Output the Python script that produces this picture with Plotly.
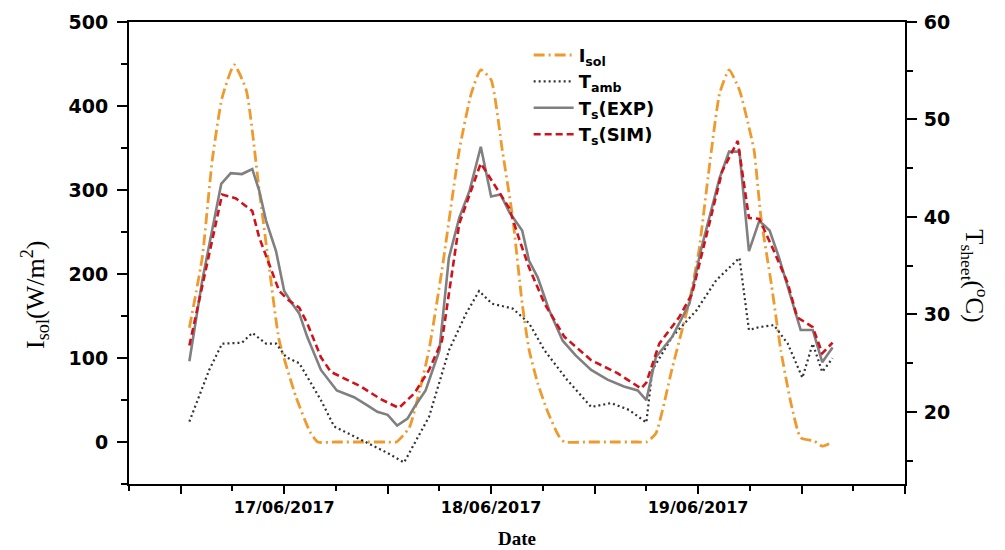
import pandas as pd
import plotly.graph_objects as go

BASE = "2017-06-17 00:00"

# hours relative to 17/06/2017 00:00
isol_h = [-11.0, -9.5, -8.35, -7.2, -5.8, -4.4, -2.9, -1.74, -0.58, 1.39, 3.0, 3.9,
          6.0, 9.0, 12.0, 13.0, 14.5, 15.7, 16.8, 18.3, 20.3, 21.7, 22.8, 24.0, 25.3,
          26.5, 27.6, 28.4, 29.4, 30.6, 31.8, 32.5, 35.0, 38.0, 41.0, 42.0, 43.1, 45.0,
          47.0, 48.1, 49.3, 50.5, 51.6, 52.8, 53.9, 54.5, 55.3, 56.5, 57.6, 58.8, 59.9,
          61.5, 62.4, 63.2]
isol_v = [136, 220, 335, 410, 449, 419, 300, 208, 121, 53, 12, 0,
          0, 0, 0, 0, 17, 61, 110, 205, 347, 415, 443, 431, 347,
          267, 165, 110, 70, 35, 8, 0, 0, 0, 0, 0, 10, 88,
          168, 228, 327, 415, 443, 419, 375, 347, 267, 188, 109, 45, 5,
          1, -5, -2]

tamb_h = [-11.0, -8.7, -7.2, -4.9, -3.7, -2.1, -0.93, 0.23, 1.74, 2.67, 4.26, 5.8,
          8.9, 11.95, 13.9, 16.8, 19.1, 21.1, 22.6, 24.1, 26.5, 28.4, 30.2, 32.8,
          35.6, 37.9, 40.0, 42.0, 42.7, 45.0, 47.8, 50.1, 52.8, 53.9, 55.1, 56.8,
          58.4, 60.1, 61.3, 62.4, 63.6]
tamb_v = [19.0, 24.3, 27.0, 27.1, 28.1, 27.0, 27.0, 25.6, 25.0, 23.6, 21.2, 18.5,
          17.1, 15.8, 14.8, 19.5, 26.3, 30.1, 32.4, 31.1, 30.6, 29.1, 26.3, 23.3,
          20.5, 20.9, 20.2, 18.9, 24.3, 27.7, 30.4, 33.5, 35.8, 28.4, 28.7, 28.9,
          27.0, 23.5, 27.0, 24.1, 25.5]

texp_h = [-11.0, -9.5, -7.3, -6.2, -4.9, -3.7, -2.9, -2.1, -0.95, 0.0, 0.93, 1.74,
          2.67, 4.26, 6.1, 8.1, 9.6, 10.8, 12.0, 13.1, 14.3, 15.1, 16.4, 18.0, 19.1,
          20.3, 21.5, 22.8, 24.0, 25.1, 26.1, 27.6, 28.4, 29.4, 30.7, 32.3, 33.8,
          35.6, 37.5, 39.4, 41.0, 42.0, 43.1, 45.0, 47.0, 48.3, 50.5, 51.6, 52.8,
          53.9, 55.1, 56.3, 57.4, 59.9, 61.3, 62.4, 63.6]
texp_v = [25.2, 33.5, 43.4, 44.5, 44.4, 44.9, 42.7, 39.6, 36.5, 32.4, 31.1, 30.1,
          27.7, 24.3, 22.2, 21.5, 20.7, 20.0, 19.7, 18.6, 19.3, 20.5, 22.2, 26.3, 35.8,
          39.9, 42.7, 47.2, 42.1, 42.3, 40.5, 38.6, 35.5, 33.8, 30.5, 27.3, 25.8,
          24.3, 23.3, 22.6, 22.2, 21.2, 25.6, 27.7, 31.1, 36.5, 44.0, 46.7, 46.7,
          36.5, 39.6, 38.6, 35.8, 28.4, 28.4, 25.1, 26.6]

tsim_h = [-11.0, -7.2, -5.6, -3.7, -2.9, -1.74, -0.58, 0.58, 1.74, 2.67, 4.26, 5.42,
          8.9, 11.2, 13.3, 15.1, 16.8, 18.3, 20.3, 22.8, 24.6, 26.1, 27.3, 28.4,
          30.2, 32.5, 35.6, 38.6, 41.4, 42.0, 43.5, 45.8, 47.3, 48.9, 50.8, 52.6,
          53.9, 55.1, 56.8, 58.4, 59.5, 61.3, 62.4, 63.6]
tsim_v = [26.8, 42.3, 41.9, 40.6, 37.9, 35.2, 32.4, 31.4, 30.7, 29.1, 25.6, 24.1,
          22.6, 21.3, 20.4, 21.9, 24.3, 27.3, 39.3, 45.5, 43.0, 40.9, 37.6, 34.8,
          31.1, 27.7, 25.3, 24.0, 22.4, 23.0, 27.0, 29.7, 32.1, 37.9, 44.7, 47.8,
          39.9, 39.8, 36.5, 33.2, 29.7, 28.7, 26.0, 27.1]

date_ticks = ["2017-06-16 12:00", "2017-06-17 00:00", "2017-06-17 12:00", "2017-06-18 00:00",
              "2017-06-18 12:00", "2017-06-19 00:00", "2017-06-19 12:00", "2017-06-20 00:00"]
date_labels = ["", "17/06/2017", "", "18/06/2017", "", "19/06/2017", "", ""]


def to_time(hours):
    b = pd.Timestamp(BASE)
    return [(b + pd.Timedelta(hours=h)).strftime("%Y-%m-%d %H:%M:%S") for h in hours]


fig = go.Figure()
fig.add_trace(go.Scatter(x=to_time(isol_h), y=isol_v, mode="lines", name="I<sub>sol</sub>",
                         line=dict(color="#EE9A2E", width=2.8, dash="11px,4px,2px,4px", shape="spline", smoothing=0.5),
                         yaxis="y"))
fig.add_trace(go.Scatter(x=to_time(tamb_h), y=tamb_v, mode="lines", name="T<sub>amb</sub>",
                         line=dict(color="#333333", width=2.2, dash="2px,3px"), yaxis="y2"))
fig.add_trace(go.Scatter(x=to_time(texp_h), y=texp_v, mode="lines", name="T<sub>s</sub>(EXP)",
                         line=dict(color="#808080", width=2.6), yaxis="y2"))
fig.add_trace(go.Scatter(x=to_time(tsim_h), y=tsim_v, mode="lines", name="T<sub>s</sub>(SIM)",
                         line=dict(color="#D0121B", width=2.6, dash="7px,4px"), yaxis="y2"))

axis_common = dict(showline=True, linecolor="black", linewidth=2, ticks="outside",
                   tickcolor="black", tickwidth=2, showgrid=False, zeroline=False)

fig.update_layout(
    width=1005, height=550,
    margin=dict(l=129, r=100, t=22, b=66),
    plot_bgcolor="white", paper_bgcolor="white",
    showlegend=True,
    legend=dict(x=0.515, y=0.968, xanchor="left", yanchor="top", bgcolor="rgba(0,0,0,0)",
                font=dict(family="DejaVu Sans", size=18, color="black", weight="bold"),
                tracegroupgap=0, itemwidth=40),
    xaxis=dict(type="date", range=["2017-06-16 06:00", "2017-06-20 00:00"],
               tickvals=date_ticks, ticktext=date_labels, mirror=True, ticklen=8,
               tickfont=dict(family="DejaVu Sans", size=16, color="black", weight="bold"),
               minor=dict(ticks="outside", ticklen=5, tickwidth=2, tickcolor="black",
                          dtick=6 * 3600 * 1000, tick0="2017-06-16 00:00"),
               **axis_common),
    yaxis=dict(range=[-50, 500], tickvals=[0, 100, 200, 300, 400, 500], ticklen=10,
               ticklabelstandoff=5,
               tickfont=dict(family="DejaVu Sans", size=19, color="black", weight="bold"),
               minor=dict(ticks="outside", ticklen=6, tickwidth=2, tickcolor="black", dtick=50, tick0=0),
               **axis_common),
    yaxis2=dict(range=[12.6, 60], overlaying="y", side="right", tickvals=[20, 30, 40, 50, 60], ticklen=10,
                ticklabelstandoff=3,
                tickfont=dict(family="DejaVu Sans", size=19, color="black", weight="bold"),
                minor=dict(ticks="outside", ticklen=6, tickwidth=2, tickcolor="black", dtick=5, tick0=0),
                **axis_common),
    annotations=[
        dict(text="I<sub>sol</sub>(W/m<sup>2</sup>)", textangle=-90, xref="paper", yref="paper",
             x=-0.122, y=0.41, xanchor="center", yanchor="middle", showarrow=False,
             font=dict(family="Liberation Serif", size=26, color="black")),
        dict(text="T<sub>sheet</sub>(<sup>o</sup>C)", textangle=90, xref="paper", yref="paper",
             x=1.09, y=0.45, xanchor="center", yanchor="middle", showarrow=False,
             font=dict(family="Liberation Serif", size=25, color="black")),
        dict(text="<b>Date</b>", xref="paper", yref="paper", x=0.5, y=-0.118,
             xanchor="center", yanchor="middle", showarrow=False,
             font=dict(family="Liberation Serif", size=19, color="black")),
    ],
)

fig.write_html("out.html")
